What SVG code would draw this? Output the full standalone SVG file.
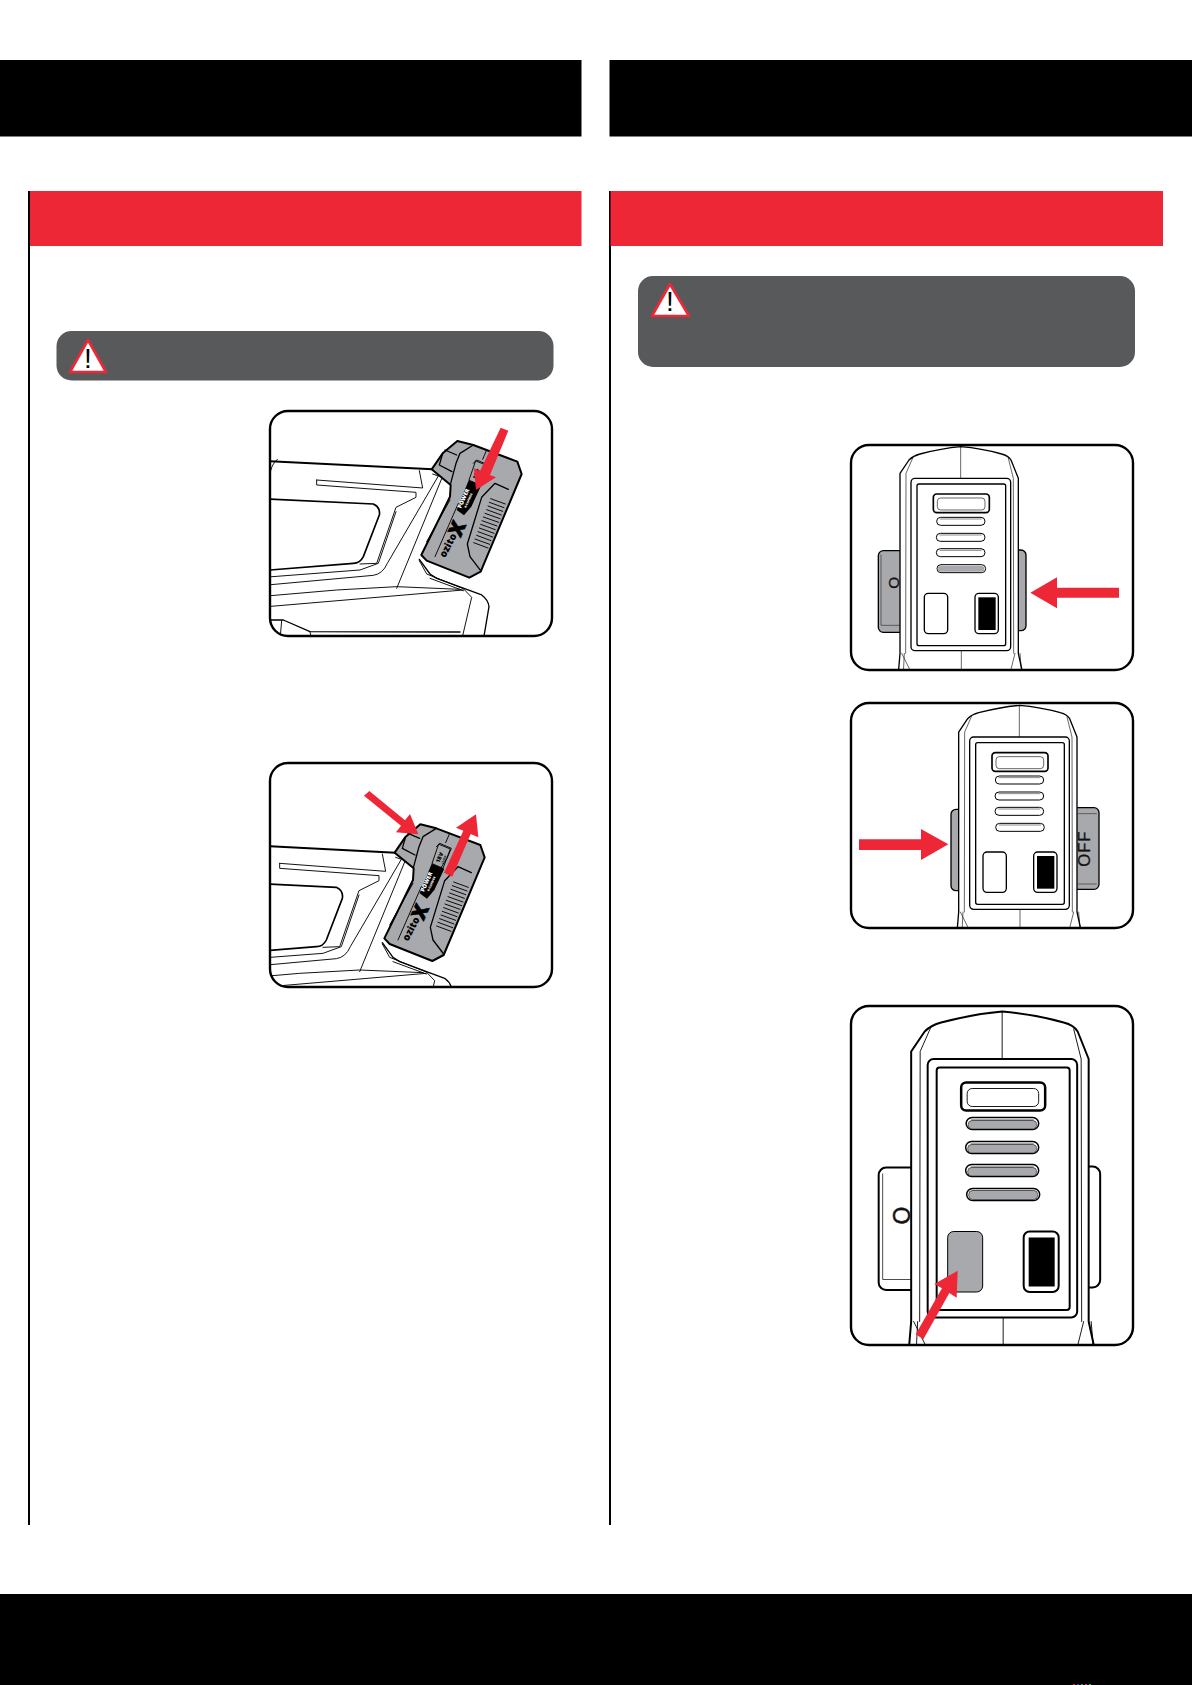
<svg xmlns="http://www.w3.org/2000/svg" xmlns:xlink="http://www.w3.org/1999/xlink" width="1192" height="1685" viewBox="0 0 1192 1685">
<style>
.k{fill:#000}.r{fill:#ee2737}.d{fill:#58595b}
.frame{fill:none;stroke:#000;stroke-width:2.4}
.th{fill:none;stroke:#000;stroke-width:2.8;stroke-linejoin:round;stroke-linecap:round}
.md{fill:none;stroke:#000;stroke-width:4;stroke-linejoin:round;stroke-linecap:round}
.hv{fill:none;stroke:#000;stroke-width:6;stroke-linejoin:round;stroke-linecap:round}
.g{fill:#a7a9ac}
.sw{stroke:#000;stroke-width:4}
.wh{fill:#fff}
.tri{fill:#fff;stroke:#ee2737;stroke-width:2.6;stroke-linejoin:round}
.ex{font-family:"Liberation Sans",Arial,sans-serif;font-size:28px;text-anchor:middle;fill:#000}
.bt{font-family:"Open Sans","Liberation Sans",Arial,sans-serif;font-weight:800;text-anchor:middle}
.sl{font-family:"Liberation Sans",Arial,sans-serif;text-anchor:middle;fill:#111;stroke:#111;stroke-width:.9}
</style>
<defs>
<clipPath id="c1"><rect x="270" y="411" width="282" height="225" rx="18"/></clipPath>
<clipPath id="c2"><rect x="270" y="763" width="282" height="224" rx="18"/></clipPath>
<clipPath id="c3"><rect x="851" y="445" width="282" height="225" rx="18"/></clipPath>
<clipPath id="c4"><rect x="851" y="703" width="282" height="225" rx="18"/></clipPath>
<clipPath id="c5"><rect x="851" y="1006" width="282" height="339" rx="18"/></clipPath>
<g id="tool">
<path class="hv" d="M-120,176 L518,208"/>
<path class="th" d="M30,225 Q32,195 52,178"/>
<path class="hv" d="M-120,290 L340,312 Q362,322 358,345 L310,470 Q300,490 280,490 L-120,522" style="stroke-width:5"/>
<path class="th" d="M170,240 L488,264 L478,212 M170,240 L170,255 L468,277 L468,292 L408,322 L350,490 L300,492 M408,335 L355,490 L300,510 L-120,542"/>
<path class="th" d="M-120,568 L340,526 Q368,522 382,490 L535,228 L518,222 M545,236 L410,565 M-120,632 L610,570 M-120,600 L230,570 L410,560 L600,568"/>
<path class="md" d="M478,478 L510,522 L530,535 L665,585 Q685,600 687,620 L670,720"/>
<path class="th" d="M478,482 L500,522 L610,566 L635,592 L605,720 M510,535 L610,572"/>
<path class="md" d="M30,660 L70,660 L150,695 L600,696"/>
<path class="th" d="M65,662 L60,720 M150,695 L155,720"/>
</g>
<g id="battery">
<path class="g" d="M515,208 L548,160 L592,123 L640,135 L772,185 L785,222 L662,515 L628,533 L500,482 L484,465 L570,290 L572,255 Z" stroke="#000" stroke-width="6" stroke-linejoin="round"/>
<path class="md" d="M640,135 L600,160 L588,190 L572,250 M555,150 L590,165 M548,160 L538,195 L576,215"/>
<path class="md" d="M745,268 L705,250 L665,292 L622,432 L630,470 L662,512"/>
<path class="th" d="M500,425 L570,300 M525,470 L595,310 M680,150 L668,178"/>
<path class="th" d="M640,190 L650,180 L685,195 L672,225 L630,290"/>
<path class="md" style="stroke-width:2.8" d="M692,296 L736,312 M688,307 L732,323 M684,318 L728,334 M680,329 L724,345 M675,340 L720,356 M670,351 L716,367 M666,362 L711,378 M662,373 L706,389 M658,384 L702,400 M654,395 L698,411 M650,406 L693,422 M645,417 L689,433 M641,428 L684,444"/>
<path class="k" d="M626,241 L664,256 L634,320 L612,346 L590,330 Z"/>
<text class="bt" transform="translate(616,298) rotate(-66)" font-size="17" fill="#fff">POWER</text>
<text class="bt" transform="translate(628,303) rotate(-66)" font-size="9" fill="#fff">X-CHANGE</text>
<text class="bt k" transform="translate(610,394) rotate(-66)" font-size="60" stroke="#000" stroke-width="2">X</text>
<text class="bt k" transform="translate(573,441) rotate(-62)" font-size="30">ozito</text>
<path class="th" d="M648,183 L682,197 L660,255 L628,241 Z"/>
<text class="bt k" transform="translate(655,225) rotate(-66)" font-size="17">18V</text>
<text class="bt k" transform="translate(665,230) rotate(-66)" font-size="8">LI-ION</text>
</g>
<g id="unit">
<path class="wh" d="M160,700 L165,640 L165,100 L192,60 Q205,47 225,42 Q290,25 347,20 Q410,25 470,42 Q490,47 498,60 L520,115 L520,640 L533,700 Z" stroke="#000" stroke-width="4" stroke-linejoin="round"/>
<path class="th" d="M205,50 L183,100 L182,640 M490,55 L505,115 L506,640 M347,20 V115 M349,632 V700 M170,640 L200,700 M178,640 L175,700 M510,640 L495,700 M525,640 L530,700" style="stroke-width:1.8"/>
<rect class="wh" x="198" y="115" width="299" height="517" rx="12" stroke="#000" stroke-width="4"/>
<rect class="wh" x="216" y="132" width="266" height="485" rx="6" stroke="#000" stroke-width="4"/>
<rect class="wh" x="265" y="162" width="168" height="56" rx="10" stroke="#000" stroke-width="5"/>
<rect class="wh" x="277" y="174" width="143" height="36" rx="10" stroke="#000" stroke-width="1.8"/>
<rect class="wh" x="390" y="460" width="70" height="121" rx="12" stroke="#000" stroke-width="4"/>
<rect class="k" x="400" y="472" width="52" height="98"/>
</g>
<g id="leds">
<rect x="275" y="232" width="145" height="24" rx="12"/>
<rect x="274" y="280" width="146" height="24" rx="12"/>
<rect x="274" y="326" width="146" height="24" rx="12"/>
<rect x="276" y="374" width="146" height="24" rx="12"/>
<path fill="none" stroke-width="1.4" d="M285,237 H410 M284,285 H410 M284,331 H410 M286,379 H412"/>
</g>
</defs>
<rect width="1192" height="1685" fill="#fff"/>

<g id="header-left"><rect class="k" x="0" y="60" width="581.5" height="76.5"/></g>
<g id="header-right"><rect class="k" x="609.5" y="60" width="582.5" height="76.5"/></g>
<g id="footer"><rect class="k" x="0" y="1594" width="1192" height="91"/>
<rect x="1073" y="1684" width="2" height="1" fill="#e11"/><rect x="1077" y="1684" width="2" height="1" fill="#33d"/><rect x="1081" y="1684" width="2" height="1" fill="#1a6"/><rect x="1085" y="1684" width="2" height="1" fill="#d2a"/><rect x="1089" y="1684" width="2" height="1" fill="#2c4"/></g>

<g id="section-left">
<rect class="k" x="28" y="191" width="2" height="1334"/>
<rect class="r" x="30" y="191" width="551.5" height="55"/>
</g>
<g id="section-right">
<rect class="k" x="609" y="191" width="2" height="1334"/>
<rect class="r" x="610.5" y="191" width="552.5" height="55"/>
</g>

<g id="warning-left">
<rect class="d" x="56.5" y="331" width="497" height="49.5" rx="15"/>
<path class="tri" d="M88,340 L70,372 H106 Z"/>
<text class="ex" x="88" y="368">!</text>
</g>
<g id="warning-right">
<rect class="d" x="638" y="276" width="497" height="91" rx="15"/>
<path class="tri" d="M670,284 L652,316 H689 Z"/>
<text class="ex" x="670" y="311">!</text>
</g>

<g id="panel-1">
<rect class="wh" x="270" y="411" width="282" height="225" rx="18"/>
<g clip-path="url(#c1)"><g transform="translate(260 400) scale(.33333)">
<use xlink:href="#tool" href="#tool"/><use xlink:href="#battery" href="#battery"/>
<path class="r" d="M722,83 L745,92 L690,225 L708,232 L648,270 L642,205 L660,213 Z"/>
</g></g>
<rect class="frame" x="270" y="411" width="282" height="225" rx="18"/>
</g>

<g id="panel-2">
<rect class="wh" x="270" y="763" width="282" height="224" rx="18"/>
<g clip-path="url(#c2)"><g transform="translate(260 755) scale(.33333)">
<g transform="translate(-111 85)"><use xlink:href="#tool" href="#tool"/><use xlink:href="#battery" href="#battery"/></g>
<path class="r" d="M312,122 L328,108 L435,196 L450,177 L475,238 L408,232 L423,212 Z"/>
<path class="r" d="M552,353 L610,227 L588,218 L648,178 L655,247 L632,237 L577,365 Z"/>
</g></g>
<rect class="frame" x="270" y="763" width="282" height="224" rx="18"/>
</g>

<g id="panel-3">
<rect class="wh" x="851" y="445" width="282" height="225" rx="18"/>
<g clip-path="url(#c3)"><g transform="translate(845 440) scale(.33333)">
<rect class="g sw" x="100" y="332" width="100" height="245" rx="15"/>
<rect class="g sw" x="500" y="330" width="43" height="242" rx="15"/>
<path class="th" d="M108,345 V556 H165" style="stroke-width:1.4"/>
<use xlink:href="#unit" href="#unit"/>
<rect class="wh sw" x="238" y="460" width="70" height="121" rx="12"/>
<g class="wh" stroke="#000" stroke-width="3"><use xlink:href="#leds" href="#leds"/></g>
<rect class="g" x="278" y="378" width="140" height="17" rx="8"/>
<text class="sl" transform="translate(163,428) rotate(-90)" font-size="46">O</text>
<path class="r" d="M822,443 V473 H636 V505 L556,458 L636,412 V443 Z"/>
</g></g>
<rect class="frame" x="851" y="445" width="282" height="225" rx="18"/>
</g>

<g id="panel-4">
<rect class="wh" x="851" y="703" width="282" height="225" rx="18"/>
<g clip-path="url(#c4)"><g transform="translate(903.67 698.67) scale(.33333)">
<rect class="g sw" x="142" y="332" width="50" height="244" rx="15"/>
<rect class="g sw" x="480" y="327" width="106" height="245" rx="15"/>
<path class="th" d="M525,345 H578 M525,556 H578" style="stroke-width:1.4"/>
<use xlink:href="#unit" href="#unit"/>
<rect class="wh sw" x="238" y="460" width="70" height="121" rx="12"/>
<g class="wh" stroke="#000" stroke-width="3"><use xlink:href="#leds" href="#leds"/></g>
<text class="sl" transform="translate(559,450) rotate(-90)" font-size="50" letter-spacing="3">OFF</text>
</g>
<g transform="translate(845 700) scale(.33333)">
<path class="r" d="M42,418 V450 H228 V480 L310,433 L228,387 V418 Z"/>
</g></g>
<rect class="frame" x="851" y="703" width="282" height="225" rx="18"/>
</g>

<g id="panel-5">
<rect class="wh" x="851" y="1006" width="282" height="339" rx="18"/>
<g clip-path="url(#c5)"><g transform="translate(828.67 1001.5) scale(.5)">
<rect class="wh sw" x="100" y="332" width="100" height="245" rx="15"/>
<rect class="wh sw" x="500" y="330" width="43" height="242" rx="15"/>
<path class="th" d="M108,345 V556 H165" style="stroke-width:1.4"/>
<use xlink:href="#unit" href="#unit"/>
<rect class="g" stroke="#000" stroke-width="2" x="238" y="460" width="70" height="121" rx="12"/>
<g class="wh" stroke="#000" stroke-width="3"><use xlink:href="#leds" href="#leds"/></g>
<g class="g" stroke="#000" stroke-width="1"><rect x="279" y="238" width="137" height="17" rx="8"/><rect x="278" y="286" width="138" height="17" rx="8"/><rect x="278" y="332" width="138" height="17" rx="8"/><rect x="280" y="378" width="138" height="18" rx="8"/></g>
<text class="sl" transform="translate(163,428) rotate(-90)" font-size="46">O</text>
</g>
<g transform="translate(845 1000) scale(.33333)">
<path class="r" d="M212,1003 L291,865 L268,852 L338,812 L335,893 L313,879 L235,1018 Z"/>
</g></g>
<rect class="frame" x="851" y="1006" width="282" height="339" rx="18"/>
</g>
</svg>
